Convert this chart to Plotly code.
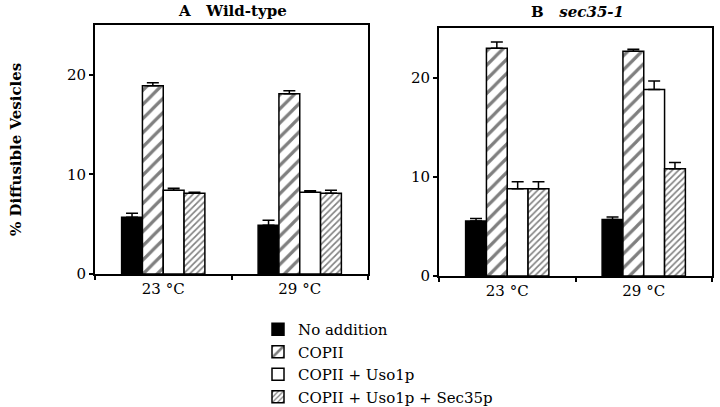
import plotly.graph_objects as go

categories = ["23 °C", "29 °C"]
series_names = ["No addition", "COPII", "COPII + Uso1p", "COPII + Uso1p + Sec35p"]

# Panel A: Wild-type
wt_values = {
    "No addition": [5.7, 4.9],
    "COPII": [18.9, 18.1],
    "COPII + Uso1p": [8.4, 8.2],
    "COPII + Uso1p + Sec35p": [8.1, 8.1],
}
wt_errors = {
    "No addition": [0.4, 0.5],
    "COPII": [0.3, 0.3],
    "COPII + Uso1p": [0.2, 0.15],
    "COPII + Uso1p + Sec35p": [0.1, 0.3],
}
# Panel B: sec35-1
mut_values = {
    "No addition": [5.55, 5.7],
    "COPII": [22.95, 22.65],
    "COPII + Uso1p": [8.8, 18.8],
    "COPII + Uso1p + Sec35p": [8.8, 10.8],
}
mut_errors = {
    "No addition": [0.25, 0.25],
    "COPII": [0.65, 0.2],
    "COPII + Uso1p": [0.7, 0.85],
    "COPII + Uso1p + Sec35p": [0.7, 0.65],
}

FONT = "DejaVu Serif, Liberation Serif, serif"

styles = {
    "No addition": dict(color="black", pattern=dict(shape="")),
    "COPII": dict(color="white", pattern=dict(shape="/", size=10, solidity=0.32,
                                               fgcolor="black", bgcolor="white", fillmode="overlay")),
    "COPII + Uso1p": dict(color="white", pattern=dict(shape="")),
    "COPII + Uso1p + Sec35p": dict(color="white", pattern=dict(shape="/", size=4.5, solidity=0.35,
                                                                fgcolor="black", bgcolor="white", fillmode="overlay")),
}

fig = go.Figure()

for panel, (vals, errs, xa, ya) in enumerate([(wt_values, wt_errors, "x", "y"),
                                              (mut_values, mut_errors, "x2", "y2")]):
    for name in series_names:
        st = styles[name]
        fig.add_trace(go.Bar(
            x=categories, y=vals[name], name=name,
            xaxis=xa, yaxis=ya,
            marker=dict(color=st["color"], pattern=st["pattern"],
                        line=dict(color="black", width=1.5)),
            error_y=dict(type="data", array=errs[name], arrayminus=[0] * len(errs[name]),
                         symmetric=False, color="black", thickness=1.5, width=6),
            showlegend=(panel == 0),
        ))

axis_common = dict(showline=True, linecolor="black", linewidth=1.8, mirror=True,
                   showgrid=False, zeroline=False, ticks="outside", ticklen=4,
                   tickcolor="black", tickwidth=1.5, automargin=False,
                   tickfont=dict(family=FONT, size=15, color="black"))

fig.update_layout(
    template="none",
    width=720, height=407,
    margin=dict(l=0, r=0, t=0, b=0, autoexpand=False),
    paper_bgcolor="white", plot_bgcolor="white",
    barmode="group", bargap=0.39, bargroupgap=0,
    font=dict(family=FONT, color="black"),
    xaxis=dict(domain=[95 / 720, 368 / 720], anchor="y", type="category",
               tickson="boundaries", ticklabelstandoff=0, **axis_common),
    yaxis=dict(domain=[(407 - 274) / 407, (407 - 25) / 407], anchor="x",
               range=[0, 25], tickvals=[0, 10, 20], **axis_common),
    xaxis2=dict(domain=[439 / 720, 712 / 720], anchor="y2", type="category",
                tickson="boundaries", ticklabelstandoff=0, **axis_common),
    yaxis2=dict(domain=[(407 - 276) / 407, (407 - 28) / 407], anchor="x2",
                range=[0, 25], tickvals=[0, 10, 20], **axis_common),
    legend=dict(x=258 / 720, y=1 - 313 / 407, xanchor="left", yanchor="top",
                font=dict(family=FONT, size=15, color="black"),
                bgcolor="rgba(0,0,0,0)", itemwidth=30, tracegroupgap=0),
    annotations=[
        dict(text="<b>A   Wild-type</b>", x=232 / 720, y=1 - 11 / 407, xref="paper", yref="paper",
             xanchor="center", yanchor="middle", showarrow=False,
             font=dict(family=FONT, size=15, color="black")),
        dict(text="<b>B   <i>sec35-1</i></b>", x=577 / 720, y=1 - 12 / 407, xref="paper", yref="paper",
             xanchor="center", yanchor="middle", showarrow=False,
             font=dict(family=FONT, size=15, color="black")),
        dict(text="<b>% Diffusible Vesicles</b>", x=16 / 720, y=1 - 150 / 407, xref="paper", yref="paper",
             xanchor="center", yanchor="middle", showarrow=False, textangle=-90,
             font=dict(family=FONT, size=15, color="black")),
    ],
)

fig.write_html("out.html", config={"displayModeBar": False},
               post_script="document.body.style.margin='0';")
